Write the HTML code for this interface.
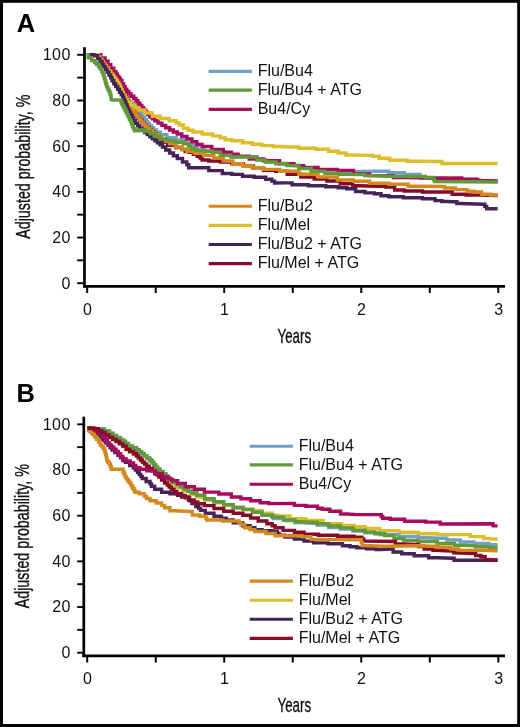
<!DOCTYPE html>
<html><head><meta charset="utf-8"><style>
html,body{margin:0;padding:0;background:#fff;}
body{width:520px;height:727px;overflow:hidden;}
svg{display:block;will-change:transform;}
text{font-family:"Liberation Sans",sans-serif;fill:#111;}
.tk{font-size:16px;}
.lg{font-size:16px;}
.cond{font-size:20.8px;stroke:#111;stroke-width:0.35px;}
.pl{font-size:25.5px;font-weight:bold;fill:#000;}
polyline{fill:none;stroke-width:3.4;stroke-linejoin:miter;stroke-linecap:butt;}
</style></head><body>
<svg width="520" height="727" viewBox="0 0 520 727">
<rect x="0" y="0" width="520" height="727" fill="#fff"/>
<rect x="0" y="0" width="3" height="727" fill="#000"/>
<rect x="0" y="0" width="520" height="2.8" fill="#000"/>
<rect x="517.2" y="0" width="3" height="727" fill="#000"/>
<rect x="0" y="724" width="520" height="3" fill="#000"/>
<text x="16.7" y="32.1" class="pl">A</text>
<text x="16.5" y="401.5" class="pl">B</text>
<line x1="84.5" y1="47.2" x2="84.5" y2="287.6" stroke="#000" stroke-width="2.7"/>
<line x1="77.2" y1="283.20" x2="84.5" y2="283.20" stroke="#000" stroke-width="1.9"/>
<line x1="77.2" y1="260.36" x2="84.5" y2="260.36" stroke="#000" stroke-width="1.9"/>
<line x1="77.2" y1="237.52" x2="84.5" y2="237.52" stroke="#000" stroke-width="1.9"/>
<line x1="77.2" y1="214.68" x2="84.5" y2="214.68" stroke="#000" stroke-width="1.9"/>
<line x1="77.2" y1="191.84" x2="84.5" y2="191.84" stroke="#000" stroke-width="1.9"/>
<line x1="77.2" y1="169.00" x2="84.5" y2="169.00" stroke="#000" stroke-width="1.9"/>
<line x1="77.2" y1="146.16" x2="84.5" y2="146.16" stroke="#000" stroke-width="1.9"/>
<line x1="77.2" y1="123.32" x2="84.5" y2="123.32" stroke="#000" stroke-width="1.9"/>
<line x1="77.2" y1="100.48" x2="84.5" y2="100.48" stroke="#000" stroke-width="1.9"/>
<line x1="77.2" y1="77.64" x2="84.5" y2="77.64" stroke="#000" stroke-width="1.9"/>
<line x1="77.2" y1="54.80" x2="84.5" y2="54.80" stroke="#000" stroke-width="1.9"/>
<line x1="83.2" y1="286.3" x2="505" y2="286.3" stroke="#000" stroke-width="2.7"/>
<line x1="87.20" y1="286.3" x2="87.20" y2="293" stroke="#000" stroke-width="2"/>
<line x1="155.72" y1="286.3" x2="155.72" y2="293" stroke="#000" stroke-width="2"/>
<line x1="224.23" y1="286.3" x2="224.23" y2="293" stroke="#000" stroke-width="2"/>
<line x1="292.75" y1="286.3" x2="292.75" y2="293" stroke="#000" stroke-width="2"/>
<line x1="361.27" y1="286.3" x2="361.27" y2="293" stroke="#000" stroke-width="2"/>
<line x1="429.78" y1="286.3" x2="429.78" y2="293" stroke="#000" stroke-width="2"/>
<line x1="498.30" y1="286.3" x2="498.30" y2="293" stroke="#000" stroke-width="2"/>
<text x="70.3" y="288.60" text-anchor="end" class="tk">0</text>
<text x="70.3" y="242.92" text-anchor="end" class="tk" textLength="18" lengthAdjust="spacing">20</text>
<text x="70.3" y="197.24" text-anchor="end" class="tk" textLength="18" lengthAdjust="spacing">40</text>
<text x="70.3" y="151.56" text-anchor="end" class="tk" textLength="18" lengthAdjust="spacing">60</text>
<text x="70.3" y="105.88" text-anchor="end" class="tk" textLength="18" lengthAdjust="spacing">80</text>
<text x="70.3" y="60.20" text-anchor="end" class="tk" textLength="27.6" lengthAdjust="spacing">100</text>
<text x="87.50" y="314.8" text-anchor="middle" class="tk">0</text>
<text x="224.53" y="314.8" text-anchor="middle" class="tk">1</text>
<text x="361.57" y="314.8" text-anchor="middle" class="tk">2</text>
<text x="498.60" y="314.8" text-anchor="middle" class="tk">3</text>
<text class="cond" transform="translate(277.5,342.9) scale(0.64,1)">Years</text>
<text class="cond" transform="translate(29.8,238.8) rotate(-90) scale(0.687,1)">Adjusted probability, %</text>
<line x1="83.8" y1="416.7" x2="83.8" y2="657.0999999999999" stroke="#000" stroke-width="2.7"/>
<line x1="77.2" y1="652.70" x2="83.8" y2="652.70" stroke="#000" stroke-width="1.9"/>
<line x1="77.2" y1="629.86" x2="83.8" y2="629.86" stroke="#000" stroke-width="1.9"/>
<line x1="77.2" y1="607.02" x2="83.8" y2="607.02" stroke="#000" stroke-width="1.9"/>
<line x1="77.2" y1="584.18" x2="83.8" y2="584.18" stroke="#000" stroke-width="1.9"/>
<line x1="77.2" y1="561.34" x2="83.8" y2="561.34" stroke="#000" stroke-width="1.9"/>
<line x1="77.2" y1="538.50" x2="83.8" y2="538.50" stroke="#000" stroke-width="1.9"/>
<line x1="77.2" y1="515.66" x2="83.8" y2="515.66" stroke="#000" stroke-width="1.9"/>
<line x1="77.2" y1="492.82" x2="83.8" y2="492.82" stroke="#000" stroke-width="1.9"/>
<line x1="77.2" y1="469.98" x2="83.8" y2="469.98" stroke="#000" stroke-width="1.9"/>
<line x1="77.2" y1="447.14" x2="83.8" y2="447.14" stroke="#000" stroke-width="1.9"/>
<line x1="77.2" y1="424.30" x2="83.8" y2="424.30" stroke="#000" stroke-width="1.9"/>
<line x1="82.5" y1="655.8" x2="505" y2="655.8" stroke="#000" stroke-width="2.7"/>
<line x1="87.20" y1="655.8" x2="87.20" y2="662.5" stroke="#000" stroke-width="2"/>
<line x1="155.72" y1="655.8" x2="155.72" y2="662.5" stroke="#000" stroke-width="2"/>
<line x1="224.23" y1="655.8" x2="224.23" y2="662.5" stroke="#000" stroke-width="2"/>
<line x1="292.75" y1="655.8" x2="292.75" y2="662.5" stroke="#000" stroke-width="2"/>
<line x1="361.27" y1="655.8" x2="361.27" y2="662.5" stroke="#000" stroke-width="2"/>
<line x1="429.78" y1="655.8" x2="429.78" y2="662.5" stroke="#000" stroke-width="2"/>
<line x1="498.30" y1="655.8" x2="498.30" y2="662.5" stroke="#000" stroke-width="2"/>
<text x="70.3" y="658.10" text-anchor="end" class="tk">0</text>
<text x="70.3" y="612.42" text-anchor="end" class="tk" textLength="18" lengthAdjust="spacing">20</text>
<text x="70.3" y="566.74" text-anchor="end" class="tk" textLength="18" lengthAdjust="spacing">40</text>
<text x="70.3" y="521.06" text-anchor="end" class="tk" textLength="18" lengthAdjust="spacing">60</text>
<text x="70.3" y="475.38" text-anchor="end" class="tk" textLength="18" lengthAdjust="spacing">80</text>
<text x="70.3" y="429.70" text-anchor="end" class="tk" textLength="27.6" lengthAdjust="spacing">100</text>
<text x="87.50" y="684.3" text-anchor="middle" class="tk">0</text>
<text x="224.53" y="684.3" text-anchor="middle" class="tk">1</text>
<text x="361.57" y="684.3" text-anchor="middle" class="tk">2</text>
<text x="498.60" y="684.3" text-anchor="middle" class="tk">3</text>
<text class="cond" transform="translate(277.5,712.4) scale(0.64,1)">Years</text>
<text class="cond" transform="translate(28.8,608.3) rotate(-90) scale(0.687,1)">Adjusted probability, %</text>
<line x1="208.7" y1="71.4" x2="251.9" y2="71.4" stroke="#6EA0C8" stroke-width="3.1"/>
<text x="257.7" y="76.1" class="lg">Flu/Bu4</text>
<line x1="208.7" y1="90.1" x2="251.9" y2="90.1" stroke="#64993A" stroke-width="3.1"/>
<text x="257.7" y="94.8" class="lg">Flu/Bu4 + ATG</text>
<line x1="208.7" y1="109.4" x2="251.9" y2="109.4" stroke="#A60B5E" stroke-width="3.1"/>
<text x="257.7" y="114.1" class="lg">Bu4/Cy</text>
<line x1="208.7" y1="206.3" x2="251.9" y2="206.3" stroke="#D4891F" stroke-width="3.1"/>
<text x="257.7" y="211.0" class="lg">Flu/Bu2</text>
<line x1="208.7" y1="225.4" x2="251.9" y2="225.4" stroke="#DDBD2A" stroke-width="3.1"/>
<text x="257.7" y="230.1" class="lg">Flu/Mel</text>
<line x1="208.7" y1="244.5" x2="251.9" y2="244.5" stroke="#452358" stroke-width="3.1"/>
<text x="257.7" y="249.2" class="lg">Flu/Bu2 + ATG</text>
<line x1="208.7" y1="263.6" x2="251.9" y2="263.6" stroke="#880A2B" stroke-width="3.1"/>
<text x="257.7" y="268.3" class="lg">Flu/Mel + ATG</text>
<line x1="249.7" y1="446.20000000000005" x2="292.9" y2="446.20000000000005" stroke="#6EA0C8" stroke-width="3.1"/>
<text x="298.7" y="450.9" class="lg">Flu/Bu4</text>
<line x1="249.7" y1="464.9" x2="292.9" y2="464.9" stroke="#64993A" stroke-width="3.1"/>
<text x="298.7" y="469.6" class="lg">Flu/Bu4 + ATG</text>
<line x1="249.7" y1="484.20000000000005" x2="292.9" y2="484.20000000000005" stroke="#A60B5E" stroke-width="3.1"/>
<text x="298.7" y="488.9" class="lg">Bu4/Cy</text>
<line x1="249.7" y1="581.1" x2="292.9" y2="581.1" stroke="#D4891F" stroke-width="3.1"/>
<text x="298.7" y="585.8" class="lg">Flu/Bu2</text>
<line x1="249.7" y1="600.2" x2="292.9" y2="600.2" stroke="#DDBD2A" stroke-width="3.1"/>
<text x="298.7" y="604.9" class="lg">Flu/Mel</text>
<line x1="249.7" y1="619.3" x2="292.9" y2="619.3" stroke="#452358" stroke-width="3.1"/>
<text x="298.7" y="624.0" class="lg">Flu/Bu2 + ATG</text>
<line x1="249.7" y1="638.4000000000001" x2="292.9" y2="638.4000000000001" stroke="#880A2B" stroke-width="3.1"/>
<text x="298.7" y="643.1" class="lg">Flu/Mel + ATG</text>
<g>
<polyline points="87.0,54.8 98.0,54.8 99.0,54.8 99.0,57.2 101.0,57.2 101.0,59.6 103.0,59.6 103.0,62.0 104.0,62.0 104.8,62.0 104.8,64.5 106.2,64.5 106.2,67.0 107.8,67.0 107.8,69.5 109.2,69.5 109.2,72.0 110.0,72.0 110.8,72.0 110.8,74.7 112.5,74.7 112.5,77.3 114.2,77.3 114.2,80.0 115.0,80.0 115.8,80.0 115.8,82.7 117.5,82.7 117.5,85.3 119.2,85.3 119.2,88.0 120.0,88.0 120.7,88.0 120.7,90.3 122.0,90.3 122.0,92.7 123.3,92.7 123.3,95.0 124.0,95.0 125.0,95.0 125.0,97.5 127.0,97.5 127.0,100.0 128.0,100.0 129.2,100.0 129.2,102.0 131.8,102.0 131.8,104.0 133.0,104.0 134.2,104.0 134.2,105.8 136.6,105.8 136.6,107.7 137.8,107.7 138.2,107.7 138.2,109.6 138.8,109.6 138.8,111.5 139.2,111.5 140.0,111.5 140.0,113.6 141.5,113.6 141.5,115.6 143.0,115.6 143.0,117.7 143.8,117.7 144.6,117.7 144.6,119.7 146.2,119.7 146.2,121.8 147.7,121.8 147.7,123.8 148.5,123.8 149.5,123.8 149.5,125.9 151.6,125.9 151.6,127.9 153.6,127.9 153.6,130.0 154.6,130.0 156.5,130.0 156.5,132.3 160.4,132.3 160.4,134.6 162.3,134.6 166.9,134.6 166.9,137.7 171.5,137.7 176.2,137.7 176.2,140.0 180.8,140.0 185.4,140.0 185.4,143.0 190.0,143.0 191.5,143.0 191.5,145.3 194.6,145.3 194.6,147.7 197.7,147.7 197.7,150.0 199.2,150.0 204.0,150.0 204.0,151.0 208.8,151.0 216.5,150.5 222.0,149.8 223.0,149.8 223.0,152.3 225.0,152.3 225.0,154.8 226.0,154.8 231.8,154.8 231.8,156.7 237.7,156.7 253.0,156.7 256.9,156.7 256.9,159.7 260.8,159.7 265.6,159.7 265.6,161.7 270.4,161.7 275.9,161.7 275.9,163.4 281.5,163.4 287.2,163.4 287.2,165.3 293.0,165.3 298.8,165.3 298.8,168.2 304.6,168.2 311.3,168.2 311.3,171.0 318.0,171.0 324.8,171.0 324.8,173.0 331.5,173.0 347.0,173.5 351.5,173.5 351.5,172.0 356.0,172.0 360.0,171.5 379.0,171.2 388.8,171.2 388.8,172.7 398.5,172.7 404.2,172.7 404.2,174.5 410.0,174.5 420.0,174.5 420.0,178.0 430.0,178.0 445.0,178.0 445.0,179.5 460.0,179.5 478.8,179.5 478.8,181.0 497.6,181.0" stroke="#6EA0C8"/>
<polyline points="87.0,54.8 98.0,54.8 98.8,54.8 98.8,57.0 100.5,57.0 100.5,59.3 102.2,59.3 102.2,61.5 103.0,61.5 103.8,61.5 103.8,63.8 105.5,63.8 105.5,66.0 107.2,66.0 107.2,68.3 108.0,68.3 108.8,68.3 108.8,70.5 110.4,70.5 110.4,72.8 112.0,72.8 112.0,75.0 112.8,75.0 113.8,75.0 113.8,77.9 115.7,77.9 115.7,80.8 116.7,80.8 117.7,80.8 117.7,83.7 119.5,83.7 119.5,86.5 120.5,86.5 121.2,86.5 121.2,88.8 122.5,88.8 122.5,91.0 123.8,91.0 123.8,93.3 124.4,93.3 125.0,93.3 125.0,95.6 126.1,95.6 126.1,98.0 127.2,98.0 127.2,100.3 128.3,100.3 128.3,102.7 129.4,102.7 129.4,105.0 130.0,105.0 130.9,105.0 130.9,107.5 132.6,107.5 132.6,110.0 134.4,110.0 134.4,112.5 136.1,112.5 136.1,115.0 137.0,115.0 138.0,115.0 138.0,117.5 140.0,117.5 140.0,120.0 142.0,120.0 142.0,122.5 144.0,122.5 144.0,125.0 145.0,125.0 146.2,125.0 146.2,127.2 148.8,127.2 148.8,129.5 151.2,129.5 151.2,131.8 153.8,131.8 153.8,134.0 155.0,134.0 156.5,134.0 156.5,136.8 159.4,136.8 159.4,139.5 162.3,139.5 162.3,142.3 163.8,142.3 167.7,142.3 167.7,145.4 171.5,145.4 175.8,145.4 175.8,147.5 180.0,147.5 181.8,147.5 181.8,149.5 185.2,149.5 185.2,151.5 187.0,151.5 189.2,151.5 189.2,152.3 191.5,152.3 193.4,152.3 193.4,154.2 197.3,154.2 197.3,156.2 199.2,156.2 200.1,156.2 200.1,158.1 202.1,158.1 202.1,160.0 203.0,160.0 208.8,160.0 208.8,161.0 214.6,161.0 220.4,161.0 220.4,162.0 226.2,162.0 231.9,162.0 231.9,163.8 237.7,163.8 243.4,163.8 243.4,165.8 249.2,165.8 253.1,165.8 253.1,167.7 257.0,167.7 263.5,167.7 263.5,170.4 270.0,170.4 275.8,170.4 275.8,171.3 281.5,171.3 287.2,171.3 287.2,174.2 293.0,174.2 300.8,174.2 300.8,177.0 308.5,177.0 314.2,177.0 314.2,179.0 320.0,179.0 326.8,179.0 326.8,181.0 333.5,181.0 340.2,181.0 340.2,183.8 347.0,183.8 352.8,183.8 352.8,185.8 358.5,185.8 379.0,186.2 385.9,186.2 385.9,187.0 392.7,187.0 394.6,187.0 394.6,190.0 396.5,190.0 404.2,190.0 404.2,191.0 412.0,191.0 422.5,191.0 422.5,192.0 433.0,192.0 451.5,192.0 452.2,192.0 452.2,194.2 453.0,194.2 466.1,194.2 466.1,195.0 479.2,195.0 497.6,195.5" stroke="#880A2B"/>
<polyline points="87.0,54.8 98.4,54.8 99.2,54.8 99.2,57.0 100.8,57.0 100.8,59.3 102.4,59.3 102.4,61.5 103.2,61.5 104.0,61.5 104.0,63.8 105.6,63.8 105.6,66.0 107.2,66.0 107.2,68.3 108.0,68.3 108.8,68.3 108.8,70.5 110.4,70.5 110.4,72.8 112.0,72.8 112.0,75.0 112.8,75.0 113.8,75.0 113.8,77.9 115.7,77.9 115.7,80.8 116.7,80.8 117.7,80.8 117.7,83.7 119.5,83.7 119.5,86.5 120.5,86.5 121.2,86.5 121.2,88.8 122.5,88.8 122.5,91.0 123.8,91.0 123.8,93.3 124.4,93.3 124.9,93.3 124.9,95.5 125.8,95.5 125.8,97.7 126.7,97.7 126.7,99.8 127.5,99.8 127.5,102.0 128.0,102.0 128.8,102.0 128.8,104.7 130.5,104.7 130.5,107.3 132.2,107.3 132.2,110.0 133.0,110.0 133.8,110.0 133.8,112.1 135.3,112.1 135.3,114.1 136.9,114.1 136.9,116.2 137.7,116.2 138.5,116.2 138.5,118.2 140.0,118.2 140.0,120.3 141.5,120.3 141.5,122.3 142.3,122.3 143.3,122.3 143.3,124.4 145.4,124.4 145.4,126.4 147.5,126.4 147.5,128.5 148.5,128.5 149.8,128.5 149.8,130.5 152.3,130.5 152.3,132.6 154.9,132.6 154.9,134.6 156.2,134.6 158.1,134.6 158.1,136.9 161.9,136.9 161.9,139.2 163.8,139.2 165.7,139.2 165.7,141.5 169.6,141.5 169.6,143.8 171.5,143.8 175.3,143.8 175.3,147.0 179.2,147.0 181.8,147.0 181.8,149.2 187.0,149.2 187.0,151.3 189.6,151.3 194.4,151.3 194.4,153.3 199.2,153.3 204.0,153.3 204.0,155.2 208.8,155.2 213.7,155.2 213.7,158.0 218.5,158.0 223.2,158.0 223.2,161.0 228.0,161.0 232.8,161.0 232.8,163.8 237.7,163.8 242.5,163.8 242.5,165.8 247.3,165.8 252.2,165.8 252.2,167.7 257.0,167.7 263.5,167.7 263.5,169.4 270.0,169.4 279.6,169.4 279.6,171.3 289.2,171.3 298.9,171.3 298.9,174.2 308.5,174.2 318.1,174.2 318.1,177.0 327.7,177.0 337.4,177.0 337.4,180.0 347.0,180.0 353.5,180.0 353.5,181.3 360.0,181.3 369.5,181.3 369.5,183.3 379.0,183.3 388.8,183.3 388.8,184.2 398.5,184.2 408.1,184.2 408.1,186.2 417.7,186.2 443.8,186.5 444.6,186.5 444.6,188.0 445.4,188.0 455.4,188.0 455.4,189.6 465.4,189.6 466.9,189.6 466.9,191.2 468.5,191.2 473.9,191.2 473.9,192.0 479.2,192.0 481.5,192.0 481.5,194.2 483.8,194.2 490.7,194.2 490.7,195.0 497.6,195.0" stroke="#D4891F"/>
<polyline points="87.0,54.8 98.0,54.8 100.8,54.8 100.8,57.9 103.7,57.9 105.1,57.9 105.1,61.3 106.5,61.3 108.0,61.3 108.0,64.8 109.4,64.8 110.8,64.8 110.8,68.3 112.3,68.3 113.8,68.3 113.8,71.7 115.2,71.7 115.9,71.7 115.9,74.0 117.3,74.0 117.3,76.3 118.0,76.3 118.8,76.3 118.8,78.3 120.2,78.3 120.2,80.4 121.0,80.4 122.0,80.4 122.0,84.0 123.0,84.0 123.7,84.0 123.7,86.6 125.1,86.6 125.1,89.2 125.8,89.2 126.8,89.2 126.8,91.5 128.7,91.5 128.7,93.8 129.6,93.8 130.9,93.8 130.9,96.2 133.7,96.2 133.7,98.5 135.0,98.5 136.0,98.5 136.0,100.8 137.9,100.8 137.9,103.1 139.8,103.1 139.8,105.4 140.8,105.4 141.8,105.4 141.8,107.7 143.7,107.7 143.7,110.0 145.6,110.0 145.6,112.3 147.5,112.3 147.5,114.6 148.5,114.6 149.8,114.6 149.8,116.7 152.3,116.7 152.3,118.7 154.9,118.7 154.9,120.8 156.2,120.8 158.1,120.8 158.1,123.1 161.9,123.1 161.9,125.4 163.8,125.4 165.7,125.4 165.7,127.7 169.6,127.7 169.6,130.0 171.5,130.0 173.4,130.0 173.4,132.0 177.3,132.0 177.3,134.0 179.2,134.0 181.8,134.0 181.8,136.5 187.0,136.5 187.0,139.0 189.6,139.0 192.0,139.0 192.0,141.8 196.8,141.8 196.8,144.5 199.2,144.5 202.1,144.5 202.1,146.5 205.0,146.5 211.8,146.5 211.8,149.4 218.5,149.4 223.2,149.4 223.2,152.3 228.0,152.3 231.4,152.3 231.4,154.2 238.1,154.2 238.1,156.2 241.5,156.2 249.2,156.2 249.2,159.0 257.0,159.0 263.5,159.0 263.5,160.8 270.0,160.8 279.6,160.8 279.6,163.7 289.2,163.7 294.0,163.7 294.0,165.6 303.7,165.6 303.7,167.5 308.5,167.5 318.1,167.5 318.1,169.4 327.7,169.4 337.4,169.4 337.4,170.4 347.0,170.4 353.5,170.4 353.5,174.0 360.0,174.0 369.5,174.0 369.5,175.6 379.0,175.6 393.5,175.6 393.5,177.5 408.0,177.5 437.0,178.2 460.8,178.0 461.6,178.0 461.6,179.2 462.3,179.2 476.0,179.2 476.9,179.2 476.9,180.4 477.7,180.4 497.6,181.0" stroke="#A60B5E"/>
<polyline points="87.0,54.8 97.5,54.8 98.3,54.8 98.3,57.0 100.0,57.0 100.0,59.3 101.7,59.3 101.7,61.5 102.5,61.5 103.3,61.5 103.3,63.8 104.9,63.8 104.9,66.0 106.5,66.0 106.5,68.3 107.3,68.3 108.5,68.3 108.5,71.2 110.8,71.2 110.8,74.2 112.0,74.2 112.8,74.2 112.8,76.3 114.4,76.3 114.4,78.4 116.0,78.4 116.0,80.5 116.8,80.5 117.4,80.5 117.4,82.7 118.7,82.7 118.7,84.8 119.9,84.8 119.9,87.0 120.5,87.0 121.0,87.0 121.0,89.7 122.0,89.7 122.0,92.3 123.0,92.3 123.0,95.0 123.5,95.0 124.1,95.0 124.1,97.2 125.4,97.2 125.4,99.5 126.0,99.5 127.5,99.5 127.5,102.5 129.0,102.5 131.0,102.5 131.0,105.4 133.0,105.4 134.9,105.4 134.9,107.7 138.9,107.7 138.9,110.0 140.8,110.0 144.7,110.0 144.7,113.0 148.5,113.0 152.3,113.0 152.3,116.2 156.2,116.2 160.0,116.2 160.0,118.5 163.8,118.5 169.2,118.5 169.2,120.8 174.6,120.8 176.2,120.8 176.2,122.9 179.2,122.9 179.2,125.0 180.8,125.0 183.3,125.0 183.3,128.3 185.8,128.3 188.2,128.3 188.2,130.2 193.0,130.2 193.0,132.0 195.4,132.0 202.1,132.0 202.1,134.0 208.8,134.0 212.7,134.0 212.7,135.9 220.3,135.9 220.3,137.9 224.2,137.9 225.2,137.9 225.2,139.8 226.2,139.8 231.9,139.8 231.9,140.8 237.7,140.8 242.5,140.8 242.5,142.7 247.3,142.7 252.2,142.7 252.2,144.2 257.0,144.2 261.8,144.2 261.8,145.6 266.5,145.6 273.2,145.6 273.2,146.5 280.0,146.5 289.2,147.0 298.9,147.0 298.9,148.3 308.5,148.3 316.1,148.3 316.1,149.2 323.8,149.2 328.6,149.2 328.6,151.2 333.5,151.2 338.2,151.2 338.2,153.0 343.0,153.0 345.9,153.0 345.9,155.0 348.8,155.0 370.0,155.4 372.7,155.4 372.7,156.3 375.4,156.3 379.2,156.3 379.2,158.3 383.0,158.3 389.8,158.3 389.8,160.2 396.5,160.2 407.1,160.2 407.1,161.2 417.7,161.2 441.5,161.5 441.9,161.5 441.9,163.5 442.3,163.5 497.6,163.5" stroke="#DDBD2A"/>
<polyline points="87.0,54.8 91.7,54.8 94.1,54.8 94.1,55.8 96.5,55.8 97.7,55.8 97.7,58.6 100.1,58.6 100.1,61.5 101.3,61.5 102.1,61.5 102.1,64.1 103.7,64.1 103.7,66.6 105.3,66.6 105.3,69.2 106.1,69.2 107.1,69.2 107.1,72.1 109.0,72.1 109.0,75.0 110.0,75.0 110.7,75.0 110.7,77.9 112.1,77.9 112.1,80.8 112.8,80.8 113.8,80.8 113.8,83.7 115.7,83.7 115.7,86.5 116.7,86.5 117.7,86.5 117.7,89.4 119.5,89.4 119.5,92.3 120.5,92.3 121.2,92.3 121.2,94.7 122.7,94.7 122.7,97.1 123.4,97.1 123.9,97.1 123.9,99.7 124.9,99.7 124.9,102.3 126.0,102.3 126.0,104.8 127.0,104.8 127.0,107.4 128.0,107.4 128.0,110.0 128.5,110.0 129.3,110.0 129.3,112.7 130.8,112.7 130.8,115.4 132.3,115.4 132.3,118.1 133.8,118.1 133.8,120.8 134.6,120.8 135.6,120.8 135.6,123.4 137.7,123.4 137.7,125.9 139.8,125.9 139.8,128.5 140.8,128.5 142.1,128.5 142.1,130.5 144.7,130.5 144.7,132.6 147.2,132.6 147.2,134.6 148.5,134.6 149.8,134.6 149.8,136.7 152.3,136.7 152.3,138.7 154.9,138.7 154.9,140.8 156.2,140.8 157.5,140.8 157.5,142.9 160.0,142.9 160.0,144.9 162.5,144.9 162.5,147.0 163.8,147.0 165.7,147.0 165.7,150.0 169.6,150.0 169.6,153.0 171.5,153.0 173.4,153.0 173.4,155.8 177.3,155.8 177.3,158.5 179.2,158.5 182.5,158.5 182.5,162.0 185.8,162.0 186.8,162.0 186.8,164.8 188.7,164.8 188.7,167.7 189.6,167.7 199.2,167.7 208.8,167.7 208.8,170.6 218.5,170.6 222.3,170.6 222.3,173.5 226.2,173.5 231.9,173.5 231.9,174.4 237.7,174.4 242.5,174.4 242.5,176.3 247.3,176.3 254.1,176.3 254.1,177.3 260.8,177.3 265.6,177.3 265.6,179.2 270.4,179.2 271.8,179.2 271.8,181.1 274.6,181.1 274.6,183.0 276.0,183.0 285.4,182.9 292.1,182.9 292.1,184.8 298.8,184.8 308.4,184.8 308.4,185.8 318.0,185.8 325.8,185.8 325.8,186.7 333.5,186.7 338.2,186.7 338.2,187.7 343.0,187.7 346.9,187.7 346.9,188.7 350.8,188.7 355.6,188.7 355.6,191.5 360.4,191.5 365.0,191.5 365.0,192.9 369.6,192.9 374.3,192.9 374.3,193.8 379.0,193.8 381.0,193.8 381.0,195.8 383.0,195.8 388.8,195.8 388.8,196.7 394.6,196.7 403.3,196.7 403.3,197.7 412.0,197.7 422.5,197.7 422.5,198.7 433.0,198.7 435.0,198.7 435.0,200.6 437.0,200.6 441.8,200.6 441.8,201.5 446.5,201.5 453.0,201.8 456.9,201.8 456.9,203.5 460.8,203.5 483.8,204.2 484.8,204.2 484.8,206.5 486.7,206.5 486.7,208.8 487.7,208.8 497.6,208.8" stroke="#452358"/>
<polyline points="86.5,54.8 88.2,54.8 88.2,57.7 89.8,57.7 91.7,57.7 91.7,60.6 93.6,60.6 94.6,60.6 94.6,62.5 96.5,62.5 96.5,64.4 97.5,64.4 98.5,64.4 98.5,66.8 100.3,66.8 100.3,69.2 101.3,69.2 101.9,69.2 101.9,72.1 103.1,72.1 103.1,75.0 103.7,75.0 104.1,75.0 104.1,78.0 105.0,78.0 105.0,81.0 105.4,81.0 105.8,81.0 105.8,83.8 106.6,83.8 106.6,86.5 107.0,86.5 107.6,86.5 107.6,89.0 108.9,89.0 108.9,91.5 109.5,91.5 110.0,91.5 110.0,94.0 110.5,94.0 110.8,94.0 110.8,96.6 111.2,96.6 111.2,99.2 111.5,99.2 112.0,100.0 120.5,100.0 121.0,100.0 121.0,101.9 121.8,101.9 121.8,103.8 122.3,103.8 122.8,103.8 122.8,105.9 123.8,105.9 123.8,107.9 124.9,107.9 124.9,110.0 125.4,110.0 126.0,110.0 126.0,112.3 127.1,112.3 127.1,114.6 128.3,114.6 128.3,116.9 129.4,116.9 129.4,119.2 130.0,119.2 130.5,119.2 130.5,121.5 131.4,121.5 131.4,123.8 132.4,123.8 132.4,126.2 133.3,126.2 133.3,128.5 133.8,128.5 134.6,128.5 134.6,130.8 135.4,130.8 138.1,130.8 138.1,130.0 140.8,130.0 144.7,130.0 144.7,131.5 148.5,131.5 150.4,131.5 150.4,133.8 154.3,133.8 154.3,136.2 156.2,136.2 160.0,136.2 160.0,139.2 163.8,139.2 167.7,139.2 167.7,140.8 171.5,140.8 175.3,140.8 175.3,142.3 179.2,142.3 183.4,142.3 183.4,143.7 187.7,143.7 188.6,143.7 188.6,146.1 190.6,146.1 190.6,148.5 191.5,148.5 195.3,148.5 195.3,150.4 199.2,150.4 204.0,150.4 204.0,151.3 208.8,151.3 212.7,151.3 212.7,152.3 216.5,152.3 220.3,152.3 220.3,155.2 224.2,155.2 230.9,155.2 230.9,157.0 237.7,157.0 253.0,157.0 256.9,157.0 256.9,160.0 260.8,160.0 265.6,160.0 265.6,162.0 270.4,162.0 275.9,162.0 275.9,163.7 281.5,163.7 287.2,163.7 287.2,165.6 293.0,165.6 298.8,165.6 298.8,168.5 304.6,168.5 311.3,168.5 311.3,171.3 318.0,171.3 324.8,171.3 324.8,173.3 331.5,173.3 339.2,173.3 339.2,174.2 347.0,174.2 360.0,174.6 364.8,174.6 364.8,175.6 369.6,175.6 388.8,176.2 417.7,176.5 425.4,176.5 425.4,177.5 433.0,177.5 433.5,177.5 433.5,179.5 434.5,179.5 434.5,181.5 435.0,181.5 497.6,182.0" stroke="#64993A"/>
</g>
<g>
<polyline points="87.5,428.3 96.5,429.0 98.2,429.0 98.2,431.0 101.5,431.0 101.5,433.0 103.2,433.0 105.1,433.0 105.1,435.4 109.0,435.4 109.0,437.8 110.9,437.8 112.6,437.8 112.6,439.8 116.0,439.8 116.0,441.7 117.7,441.7 119.4,441.7 119.4,444.1 122.7,444.1 122.7,446.5 124.4,446.5 126.1,446.5 126.1,449.7 127.7,449.7 129.6,449.7 129.6,452.0 133.5,452.0 133.5,454.3 135.4,454.3 136.4,454.3 136.4,456.4 138.4,456.4 138.4,458.4 140.5,458.4 140.5,460.5 141.5,460.5 142.5,460.5 142.5,462.6 144.6,462.6 144.6,464.6 146.7,464.6 146.7,466.7 147.7,466.7 149.2,466.7 149.2,469.0 152.3,469.0 152.3,471.3 153.8,471.3 155.4,471.3 155.4,474.1 158.4,474.1 158.4,477.0 160.0,477.0 161.6,477.0 161.6,479.0 164.6,479.0 164.6,481.0 166.2,481.0 167.7,481.0 167.7,483.0 170.8,483.0 170.8,485.0 172.3,485.0 175.4,485.0 175.4,487.5 178.5,487.5 182.3,487.5 182.3,491.0 186.2,491.0 190.0,491.0 190.0,494.5 193.8,494.5 196.9,494.5 196.9,497.0 200.0,497.0 204.6,497.0 204.6,500.0 209.2,500.0 214.0,500.0 214.0,502.8 218.8,502.8 223.7,502.8 223.7,505.5 228.5,505.5 233.2,505.5 233.2,507.8 238.0,507.8 243.8,507.8 243.8,509.8 249.6,509.8 253.4,509.8 253.4,510.8 257.3,510.8 262.1,510.8 262.1,513.3 267.0,513.3 271.8,513.3 271.8,515.2 276.5,515.2 280.0,516.0 290.0,516.0 290.0,518.7 300.0,518.7 305.8,518.7 305.8,520.4 311.5,520.4 323.1,520.4 323.1,523.6 334.6,523.6 341.6,523.6 341.6,525.4 348.5,525.4 354.2,525.4 354.2,526.7 360.0,526.7 365.0,526.7 365.0,528.5 370.0,528.5 379.6,528.5 379.6,530.8 389.2,530.8 398.9,530.8 398.9,532.3 408.5,532.3 418.1,532.3 418.1,533.7 427.7,533.7 437.3,533.7 437.3,534.6 446.9,534.6 460.2,534.6 470.3,534.6 470.3,536.6 480.4,536.6 483.8,536.6 483.8,538.6 487.1,538.6 497.6,539.3" stroke="#DDBD2A"/>
<polyline points="87.5,428.3 101.3,428.7 104.7,428.7 104.7,431.5 108.0,431.5 109.7,431.5 109.7,433.4 113.1,433.4 113.1,435.4 114.8,435.4 116.7,435.4 116.7,437.8 120.6,437.8 120.6,440.2 122.5,440.2 124.4,440.2 124.4,443.1 128.1,443.1 128.1,446.0 130.0,446.0 131.9,446.0 131.9,448.5 135.9,448.5 135.9,451.0 137.8,451.0 139.7,451.0 139.7,453.5 143.6,453.5 143.6,456.0 145.5,456.0 147.1,456.0 147.1,458.5 150.1,458.5 150.1,461.0 151.7,461.0 152.5,461.0 152.5,463.1 154.2,463.1 154.2,465.2 155.9,465.2 155.9,467.4 157.7,467.4 157.7,469.5 158.5,469.5 160.0,469.5 160.0,471.8 163.1,471.8 163.1,474.0 164.6,474.0 166.2,474.0 166.2,477.0 169.2,477.0 169.2,480.0 170.8,480.0 172.7,480.0 172.7,482.3 176.6,482.3 176.6,484.6 178.5,484.6 180.4,484.6 180.4,486.9 184.3,486.9 184.3,489.2 186.2,489.2 188.1,489.2 188.1,491.1 191.9,491.1 191.9,493.0 193.8,493.0 196.9,493.0 196.9,495.4 200.0,495.4 204.6,495.4 204.6,498.8 209.2,498.8 214.0,498.8 214.0,501.7 218.8,501.7 223.7,501.7 223.7,504.6 228.5,504.6 233.2,504.6 233.2,507.5 238.0,507.5 242.8,507.5 242.8,509.4 247.7,509.4 252.5,509.4 252.5,512.3 257.3,512.3 262.1,512.3 262.1,515.2 267.0,515.2 273.5,515.2 273.5,518.5 280.0,518.5 285.0,518.5 285.0,520.5 295.0,520.5 295.0,522.5 300.0,522.5 311.5,523.2 317.2,523.2 317.2,525.0 323.0,525.0 328.8,525.0 328.8,527.5 334.6,527.5 340.4,527.5 340.4,529.0 346.2,529.0 353.1,529.0 353.1,531.0 360.0,531.0 365.0,531.0 365.0,532.8 370.0,532.8 379.6,532.8 379.6,534.6 389.2,534.6 398.9,534.6 398.9,536.5 408.5,536.5 418.1,536.5 418.1,537.8 427.7,537.8 440.0,538.3 446.8,538.3 446.8,540.0 453.5,540.0 460.2,540.0 460.2,542.0 467.0,542.0 473.7,542.0 473.7,543.4 480.4,543.4 489.0,543.4 489.0,544.7 497.6,544.7" stroke="#6EA0C8"/>
<polyline points="87.5,428.3 93.5,428.3 93.5,429.2 99.4,429.2 103.2,429.2 103.2,430.8 107.0,430.8 109.0,430.8 109.0,433.1 112.8,433.1 112.8,435.4 114.8,435.4 116.3,435.4 116.3,437.4 119.4,437.4 119.4,439.5 122.5,439.5 122.5,441.5 124.0,441.5 125.5,441.5 125.5,443.9 128.6,443.9 128.6,446.2 130.2,446.2 132.8,446.2 132.8,447.7 135.4,447.7 136.7,447.7 136.7,449.7 139.2,449.7 139.2,451.8 141.7,451.8 141.7,453.8 143.0,453.8 144.3,453.8 144.3,455.9 146.9,455.9 146.9,457.9 149.5,457.9 149.5,460.0 150.8,460.0 151.8,460.0 151.8,462.3 153.7,462.3 153.7,464.6 155.6,464.6 155.6,466.9 157.5,466.9 157.5,469.2 158.5,469.2 160.0,469.2 160.0,471.5 163.1,471.5 163.1,473.8 164.6,473.8 165.6,473.8 165.6,475.9 167.7,475.9 167.7,477.9 169.8,477.9 169.8,480.0 170.8,480.0 172.7,480.0 172.7,482.3 176.6,482.3 176.6,484.6 178.5,484.6 180.4,484.6 180.4,486.9 184.3,486.9 184.3,489.2 186.2,489.2 188.1,489.2 188.1,491.1 191.9,491.1 191.9,493.0 193.8,493.0 196.9,493.0 196.9,495.4 200.0,495.4 204.6,495.4 204.6,498.8 209.2,498.8 214.0,498.8 214.0,501.7 218.8,501.7 223.7,501.7 223.7,504.6 228.5,504.6 233.2,504.6 233.2,507.5 238.0,507.5 242.8,507.5 242.8,509.4 247.7,509.4 252.5,509.4 252.5,512.3 257.3,512.3 262.1,512.3 262.1,515.2 267.0,515.2 271.8,515.2 271.8,517.1 276.5,517.1 283.2,517.1 283.2,520.0 290.0,520.0 295.0,520.0 295.0,521.8 300.0,521.8 311.5,522.3 317.2,522.3 317.2,523.8 323.0,523.8 328.8,523.8 328.8,526.0 334.6,526.0 340.4,526.0 340.4,527.9 346.2,527.9 353.1,527.9 353.1,530.2 360.0,530.2 365.0,530.2 365.0,532.0 370.0,532.0 374.8,532.0 374.8,533.8 384.4,533.8 384.4,535.6 389.2,535.6 394.0,535.6 394.0,538.5 398.8,538.5 403.6,538.5 403.6,540.4 408.5,540.4 418.1,540.4 418.1,541.5 427.7,541.5 437.3,541.5 437.3,543.5 446.9,543.5 454.6,543.5 454.6,545.2 462.3,545.2 470.0,545.6 475.2,545.6 475.2,546.7 480.4,546.7 489.0,546.7 489.0,547.8 497.6,547.8" stroke="#64993A"/>
<polyline points="87.5,428.3 89.5,428.3 89.5,430.7 93.5,430.7 93.5,433.0 97.4,433.0 97.4,435.4 99.4,435.4 100.4,435.4 100.4,437.3 102.2,437.3 102.2,439.2 103.2,439.2 104.2,439.2 104.2,441.1 106.0,441.1 106.0,443.0 107.0,443.0 108.0,443.0 108.0,445.3 110.1,445.3 110.1,447.7 112.2,447.7 112.2,450.0 113.2,450.0 114.8,450.0 114.8,452.6 117.9,452.6 117.9,455.3 119.4,455.3 120.6,455.3 120.6,457.9 122.8,457.9 122.8,460.5 124.0,460.5 125.5,460.5 125.5,462.3 127.0,462.3 129.7,462.3 129.7,465.5 132.3,465.5 133.3,465.5 133.3,467.8 135.4,467.8 135.4,470.0 137.5,470.0 137.5,472.3 138.5,472.3 139.2,472.3 139.2,474.4 140.8,474.4 140.8,476.4 142.2,476.4 142.2,478.5 143.0,478.5 146.1,478.5 146.1,481.5 149.2,481.5 150.0,481.5 150.0,483.9 151.5,483.9 151.5,486.2 152.3,486.2 154.7,486.2 154.7,489.2 157.0,489.2 161.6,489.2 161.6,492.3 166.2,492.3 170.0,492.3 170.0,493.8 173.8,493.8 177.7,493.8 177.7,495.4 181.5,495.4 185.3,495.4 185.3,497.7 189.2,497.7 189.6,497.7 189.6,500.8 190.0,500.8 191.9,500.8 191.9,503.6 195.8,503.6 195.8,506.5 197.7,506.5 198.6,506.5 198.6,508.4 200.6,508.4 200.6,510.4 201.5,510.4 205.3,510.4 205.3,513.3 209.2,513.3 214.0,513.3 214.0,516.2 218.8,516.2 221.2,516.2 221.2,518.1 226.1,518.1 226.1,520.0 228.5,520.0 233.2,520.0 233.2,522.9 238.0,522.9 242.8,522.9 242.8,525.8 247.7,525.8 250.1,525.8 250.1,527.7 254.9,527.7 254.9,529.6 257.3,529.6 262.1,529.6 262.1,530.6 267.0,530.6 271.8,530.6 271.8,531.5 276.5,531.5 277.4,531.5 277.4,533.4 279.1,533.4 279.1,535.2 280.0,535.2 284.8,535.2 284.8,537.1 289.6,537.1 294.4,537.1 294.4,539.0 299.2,539.0 304.0,539.0 304.0,541.0 308.8,541.0 313.6,541.0 313.6,542.9 318.5,542.9 328.1,542.9 328.1,543.8 337.7,543.8 342.5,543.8 342.5,545.8 347.3,545.8 350.1,545.8 350.1,546.7 353.0,546.7 356.9,546.7 356.9,547.7 360.8,547.7 366.6,547.7 366.6,548.7 372.3,548.7 376.1,548.7 376.1,549.6 380.0,549.6 391.2,549.0 393.1,549.0 393.1,552.0 395.0,552.0 401.8,552.0 401.8,553.8 408.5,553.8 414.2,553.8 414.2,555.8 420.0,555.8 428.6,555.8 428.6,557.7 437.3,557.7 453.5,558.2 454.1,558.2 454.1,560.2 454.8,560.2 497.6,560.2" stroke="#452358"/>
<polyline points="87.5,428.3 90.0,428.0 96.5,428.7 98.2,428.7 98.2,430.6 101.5,430.6 101.5,432.5 103.2,432.5 105.1,432.5 105.1,434.9 109.0,434.9 109.0,437.3 110.9,437.3 112.6,437.3 112.6,439.2 116.0,439.2 116.0,441.2 117.7,441.2 119.4,441.2 119.4,443.6 122.7,443.6 122.7,446.0 124.4,446.0 126.1,446.0 126.1,449.2 127.7,449.2 129.6,449.2 129.6,451.5 133.5,451.5 133.5,453.8 135.4,453.8 136.4,453.8 136.4,455.9 138.4,455.9 138.4,457.9 140.5,457.9 140.5,460.0 141.5,460.0 142.5,460.0 142.5,462.1 144.6,462.1 144.6,464.1 146.7,464.1 146.7,466.2 147.7,466.2 149.2,466.2 149.2,468.5 152.3,468.5 152.3,470.8 153.8,470.8 154.8,470.8 154.8,472.9 156.9,472.9 156.9,474.9 159.0,474.9 159.0,477.0 160.0,477.0 161.6,477.0 161.6,480.0 164.6,480.0 164.6,483.0 166.2,483.0 167.2,483.0 167.2,485.1 169.2,485.1 169.2,487.1 171.3,487.1 171.3,489.2 172.3,489.2 173.9,489.2 173.9,491.5 176.9,491.5 176.9,493.8 178.5,493.8 181.6,493.8 181.6,497.0 184.6,497.0 188.4,497.0 188.4,500.0 192.3,500.0 194.1,500.0 194.1,501.9 197.8,501.9 197.8,503.7 199.6,503.7 204.4,503.7 204.4,505.6 209.2,505.6 214.0,505.6 214.0,508.5 218.8,508.5 223.7,508.5 223.7,511.3 228.5,511.3 233.2,511.3 233.2,513.3 238.0,513.3 242.8,513.3 242.8,515.2 247.7,515.2 250.6,515.2 250.6,518.0 253.5,518.0 258.2,518.0 258.2,521.0 263.0,521.0 266.9,521.0 266.9,523.8 270.8,523.8 272.2,523.8 272.2,525.8 275.1,525.8 275.1,527.7 276.5,527.7 283.1,527.7 283.1,530.4 289.6,530.4 294.4,530.4 294.4,532.3 299.2,532.3 304.0,532.3 304.0,534.2 308.8,534.2 318.4,534.2 318.4,535.2 328.0,535.2 337.6,535.2 337.6,536.2 347.3,536.2 354.1,536.2 354.1,537.1 360.8,537.1 361.8,537.1 361.8,539.0 363.7,539.0 363.7,541.0 364.6,541.0 394.2,541.5 395.4,541.5 395.4,543.8 396.5,543.8 417.5,544.4 418.6,544.4 418.6,546.5 419.6,546.5 424.2,546.5 424.2,549.0 428.8,549.0 432.9,549.0 432.9,550.2 437.0,550.2 445.0,550.8 452.7,551.0 453.8,551.0 453.8,552.8 454.8,552.8 473.6,553.5 475.6,553.5 475.6,555.5 477.7,555.5 481.0,555.5 481.0,556.8 484.4,556.8 485.1,556.8 485.1,559.5 485.8,559.5 497.6,560.2" stroke="#880A2B"/>
<polyline points="87.5,428.3 88.7,428.3 88.7,430.6 89.8,430.6 90.8,430.6 90.8,432.5 92.6,432.5 92.6,434.4 93.6,434.4 94.6,434.4 94.6,436.8 96.5,436.8 96.5,439.2 97.5,439.2 98.5,439.2 98.5,442.1 100.3,442.1 100.3,445.0 101.3,445.0 102.0,445.0 102.0,446.9 103.5,446.9 103.5,448.8 104.2,448.8 104.7,448.8 104.7,451.7 105.6,451.7 105.6,454.6 106.1,454.6 106.3,454.6 106.3,457.5 106.8,457.5 106.8,460.4 107.1,460.4 107.8,460.4 107.8,462.3 109.3,462.3 109.3,464.2 110.0,464.2 110.4,464.2 110.4,466.7 111.3,466.7 111.3,469.2 111.7,469.2 122.5,469.2 123.0,469.2 123.0,471.8 124.0,471.8 124.0,474.3 125.0,474.3 125.0,476.9 125.5,476.9 126.3,476.9 126.3,478.9 127.8,478.9 127.8,481.0 129.4,481.0 129.4,483.0 130.2,483.0 131.0,483.0 131.0,485.6 132.5,485.6 132.5,488.2 134.0,488.2 134.0,490.8 134.8,490.8 135.1,490.8 135.1,492.3 135.4,492.3 139.2,492.3 139.2,493.8 143.0,493.8 144.2,493.8 144.2,496.1 146.5,496.1 146.5,498.5 147.7,498.5 150.0,498.5 150.0,500.8 152.3,500.8 156.2,500.8 156.2,503.0 160.0,503.0 161.6,503.0 161.6,505.4 164.6,505.4 164.6,507.7 166.2,507.7 170.0,507.7 170.0,510.8 173.8,510.8 190.8,511.5 192.3,511.5 192.3,515.0 193.8,515.0 199.6,515.0 199.6,516.2 205.4,516.2 205.9,516.2 205.9,518.1 206.8,518.1 206.8,520.0 207.3,520.0 222.7,520.0 222.7,521.0 238.0,521.0 239.0,521.0 239.0,522.9 241.0,522.9 241.0,524.8 242.0,524.8 244.8,524.8 244.8,527.7 247.7,527.7 250.1,527.7 250.1,529.6 254.9,529.6 254.9,531.5 257.3,531.5 266.0,531.5 266.0,533.5 274.6,533.5 275.1,533.5 275.1,535.8 275.5,535.8 293.0,535.8 301.7,535.8 301.7,536.6 310.4,536.6 310.9,536.6 310.9,539.2 311.5,539.2 330.0,539.6 360.8,539.8 361.3,539.8 361.3,542.6 362.2,542.6 362.2,545.5 362.7,545.5 385.0,546.2 419.6,545.8 431.0,546.2 438.0,546.2 438.0,547.3 445.0,547.3 450.8,547.3 450.8,549.0 456.5,549.0 458.4,549.0 458.4,550.0 460.4,550.0 461.5,550.4 480.4,550.3 497.6,550.8" stroke="#D4891F"/>
<polyline points="87.5,428.3 93.0,428.5 94.6,428.5 94.6,430.4 97.8,430.4 97.8,432.3 99.4,432.3 100.6,432.3 100.6,434.6 102.8,434.6 102.8,437.0 104.0,437.0 105.2,437.0 105.2,440.0 107.4,440.0 107.4,443.0 108.6,443.0 109.6,443.0 109.6,445.1 111.7,445.1 111.7,447.1 113.8,447.1 113.8,449.2 114.8,449.2 116.0,449.2 116.0,451.5 118.2,451.5 118.2,453.8 119.4,453.8 120.6,453.8 120.6,456.4 122.8,456.4 122.8,459.0 124.0,459.0 126.1,459.0 126.1,461.0 130.2,461.0 130.2,463.0 132.3,463.0 133.5,463.0 133.5,465.4 135.8,465.4 135.8,467.7 137.0,467.7 140.0,467.7 140.0,469.2 143.0,469.2 146.9,469.2 146.9,470.8 150.8,470.8 154.7,470.8 154.7,473.8 158.5,473.8 162.3,473.8 162.3,477.0 166.2,477.0 168.1,477.0 168.1,478.9 171.9,478.9 171.9,480.8 173.8,480.8 177.7,480.8 177.7,483.5 181.5,483.5 185.3,483.5 185.3,486.8 189.2,486.8 194.4,486.8 194.4,489.2 199.6,489.2 204.4,489.2 204.4,492.1 209.2,492.1 218.8,492.1 218.8,494.0 228.5,494.0 231.3,494.0 231.3,497.0 234.2,497.0 240.9,497.0 240.9,498.8 247.7,498.8 250.6,498.8 250.6,500.8 253.5,500.8 260.2,500.8 260.2,502.7 267.0,502.7 268.9,502.7 268.9,503.6 270.8,503.6 293.5,503.5 294.4,503.5 294.4,505.4 295.4,505.4 305.9,505.4 305.9,506.3 316.5,506.3 317.5,506.3 317.5,508.3 318.5,508.3 322.2,508.3 322.2,509.2 326.0,509.2 329.9,509.2 329.9,511.2 333.8,511.2 340.6,511.2 340.6,514.0 347.3,514.0 357.0,514.6 380.6,514.6 381.3,514.6 381.3,516.5 382.8,516.5 382.8,518.3 383.5,518.3 390.2,518.3 390.2,519.2 397.0,519.2 404.6,519.2 404.6,521.2 412.3,521.2 425.8,521.2 425.8,522.1 439.2,522.1 440.2,522.1 440.2,524.0 441.2,524.0 492.5,523.8 493.1,523.8 493.1,525.9 493.8,525.9 497.6,525.9" stroke="#A60B5E"/>
<polyline points="87.5,428.3 90.0,428.0 96.5,428.7 98.2,428.7 98.2,430.6 101.5,430.6 101.5,432.5 103.2,432.5" stroke="#880A2B"/>
</g>
</svg>
</body></html>
